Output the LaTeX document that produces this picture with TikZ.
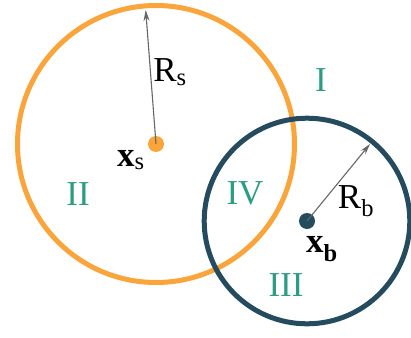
\documentclass[tikz,border=0pt]{standalone}
\usepackage{fontspec}
\setmainfont{Liberation Serif}
\usepackage{xcolor}
\usetikzlibrary{arrows.meta}
\definecolor{sorange}{RGB}{250,165,60}
\definecolor{bdark}{RGB}{36,75,94}
\definecolor{rteal}{RGB}{44,157,132}
\tikzset{
  ring/.style={
    line width=5pt
  },
  centredot/.style={
    circle,
    inner sep=0pt,
    minimum size=16pt
  },
  radiusarrow/.style={
    -{Stealth[length=11pt,width=6pt]},
    draw=black!60,
    line width=1.1pt
  },
  region/.style={
    text=rteal,
    font=\fontsize{35}{40}\selectfont
  },
  symlabel/.style={
    text=black,
    font=\fontsize{35}{40}\selectfont
  }
}

\begin{document}
\begin{tikzpicture}[x=1pt, y=-1pt]
  \useasboundingbox (0,0) rectangle (411,337);

  % Circles
  \draw [ring, draw=sorange] (156,144) circle (138.5);
  \draw [ring, draw=bdark]   (307,221) circle (102.8);

  % Centres
  \node [centredot, fill=sorange] (xs) at (156,144) {};
  \node [centredot, fill=bdark]   (xb) at (307,221) {};

  % Radii
  \coordinate (stip) at (145.7,10);
  \coordinate (btip) at (370,144);
  \draw [radiusarrow] (xs.center) -- (stip);
  \draw [radiusarrow] (xb.center) -- (btip);

  % Labels
  \node [symlabel] (rs)  at (170,72)  {R\textsubscript{s}};
  \node [symlabel] (xsl) at (131,160) {\textbf{x}\textsubscript{s}};
  \node [symlabel] (rb)  at (356,201) {R\textsubscript{b}};
  \node [symlabel] (xbl) at (322,249) {\textbf{x}\textsubscript{\textbf{b}}};

  % Regions
  \node [region] (r1) at (321,80)  {I};
  \node [region] (r2) at (78,194)  {II};
  \node [region] (r3) at (286,285) {III};
  \node [region] (r4) at (245,193) {IV};
\end{tikzpicture}
\end{document}
